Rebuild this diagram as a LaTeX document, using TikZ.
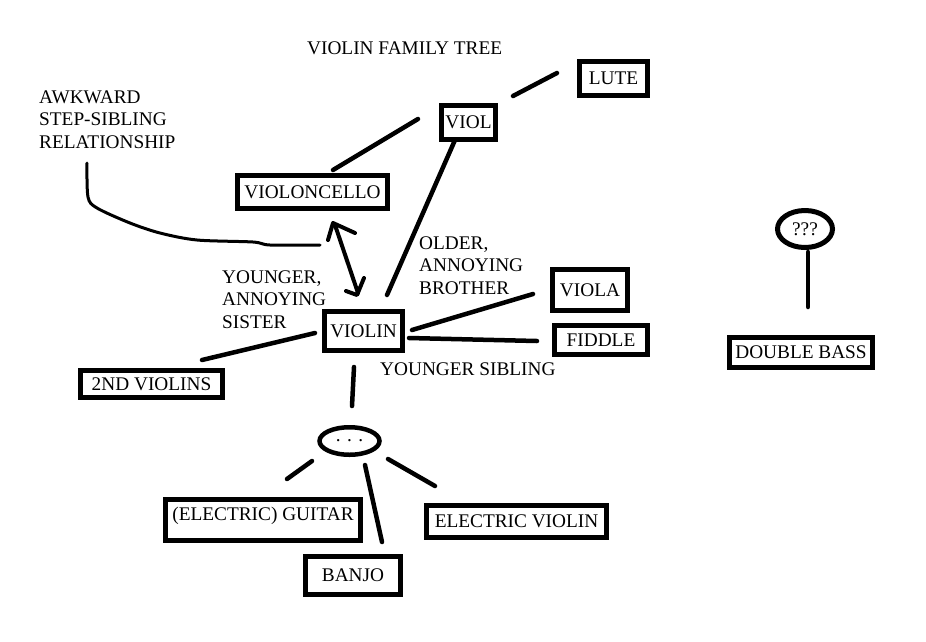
\documentclass[tikz,border=0pt]{standalone}
\usepackage{fontspec}
\setmainfont{Liberation Serif}
\usetikzlibrary{shapes.geometric}
\newcommand\diagfont{\fontsize{19.3pt}{22.5pt}\selectfont}
\begin{document}
\begin{tikzpicture}[x=1pt,y=-1pt,
  box/.style={draw, line width=5pt, inner sep=0pt, font=\diagfont},
  oval/.style={draw, ellipse, line width=5pt, inner sep=0pt, font=\diagfont},
  conn/.style={line width=4.5pt, line cap=round},
  lab/.style={inner sep=0pt, font=\diagfont, align=left}]
\fill[white] (0,0) rectangle (926,641);
\useasboundingbox (0,0) rectangle (926,641);

% boxes
\node[box, minimum width=68pt, minimum height=34pt] (lute) at (613.5,78.5) {LUTE};
\node[box, minimum width=54pt, minimum height=34pt] (viol) at (468.5,122.5) {VIOL};
\node[box, minimum width=150pt, minimum height=33pt] (vc) at (312.5,192) {VIOLONCELLO};
\node[box, minimum width=78pt, minimum height=39pt] (violin) at (363.5,331) {VIOLIN};
\node[box, minimum width=75pt, minimum height=41pt] (viola) at (590,290) {VIOLA};
\node[box, minimum width=93pt, minimum height=29pt] (fiddle) at (601,340) {FIDDLE};
\node[box, minimum width=142pt, minimum height=27pt] (second) at (151.5,384) {2ND VIOLINS};
\node[box, minimum width=143pt, minimum height=30pt] (bass) at (801,352.5) {DOUBLE BASS};
\node[box, minimum width=195pt, minimum height=41pt, text height=13.5pt, text depth=11.9pt] (guitar) at (263,520) {(ELECTRIC) GUITAR};
\node[box, minimum width=95pt, minimum height=38pt] (banjo) at (353,575.5) {BANJO\hspace{12pt}};
\node[box, minimum width=180pt, minimum height=32pt] (ev) at (516.5,521.5) {ELECTRIC VIOLIN};
\node[oval, minimum width=55pt, minimum height=37pt] (q) at (805,229) {???};
\node[oval, line width=4.5pt, minimum width=60pt, minimum height=27.5pt] (dots) at (349.5,441) {. . .};

% labels
\node[lab, anchor=base west] (title) at (307,54) {VIOLIN FAMILY TREE};
\node[lab, anchor=north west] (awk) at (39,90.4) {AWKWARD\\STEP-SIBLING\\RELATIONSHIP};
\node[lab, anchor=north west] (sis) at (222,270.4) {YOUNGER,\\ANNOYING\\SISTER};
\node[lab, anchor=north west] (bro) at (419,236.4) {OLDER,\\ANNOYING\\BROTHER};
\node[lab, anchor=base west] (ys) at (380,375) {YOUNGER SIBLING};

% connector end points
\coordinate (vl1) at (513,96);  \coordinate (vl2) at (557,73);
\coordinate (cv1) at (333,170); \coordinate (cv2) at (418,119);
\coordinate (vv1) at (455,140); \coordinate (vv2) at (387,295);
\coordinate (va1) at (412,330); \coordinate (va2) at (533,294);
\coordinate (vf1) at (409,338); \coordinate (vf2) at (537,341);
\coordinate (vs1) at (315,333); \coordinate (vs2) at (202,360);
\coordinate (vd1) at (354,367); \coordinate (vd2) at (352,406);
\coordinate (dg1) at (312,461); \coordinate (dg2) at (287,479);
\coordinate (db1) at (365,465); \coordinate (db2) at (382,542);
\coordinate (de1) at (388,459); \coordinate (de2) at (435,486);
\coordinate (qb1) at (808,252); \coordinate (qb2) at (808,307);

\draw[conn] (vl1) -- (vl2);
\draw[conn] (cv1) -- (cv2);
\draw[conn] (vv1) -- (vv2);
\draw[conn] (va1) -- (va2);
\draw[conn] (vf1) -- (vf2);
\draw[conn] (vs1) -- (vs2);
\draw[conn] (vd1) -- (vd2);
\draw[conn] (dg1) -- (dg2);
\draw[conn] (db1) -- (db2);
\draw[conn] (de1) -- (de2);
\draw[conn] (qb1) -- (qb2);

% hand-drawn double arrow
\coordinate (at) at (333,223); \coordinate (ab) at (357,295);
\draw[line width=4pt, line cap=round, line join=round] (335,225) -- (358,293);
\draw[line width=4pt, line cap=round, line join=round] (328,240) -- (at) -- (355,233);
\draw[line width=4pt, line cap=round, line join=round] (346,291) -- (ab) -- (364,278);

% wavy pointer line
\draw[line width=3pt, line cap=round] plot[smooth] coordinates {(87,163) (88,197) (97,208) (130,223) (160,233) (197,240) (253,242) (270,245) (320,245)};
\end{tikzpicture}
\end{document}
